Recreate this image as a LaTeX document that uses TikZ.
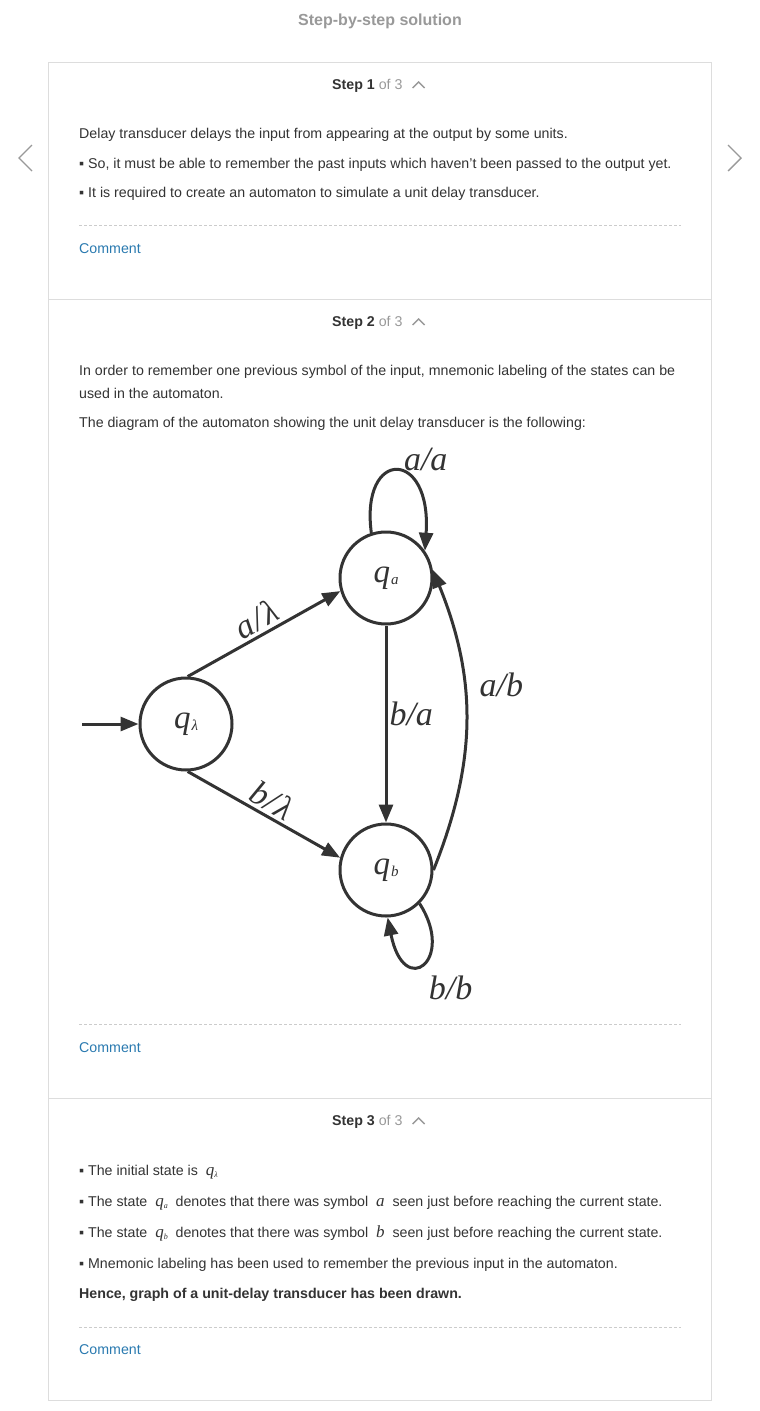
\documentclass[tikz,border=0pt]{standalone}
\usepackage{fontspec}
\setmainfont{Liberation Sans}
\newfontfamily\diagfont{Liberation Serif}
\usetikzlibrary{arrows.meta,positioning}
\definecolor{ink}{HTML}{333333}
\definecolor{soft}{HTML}{999999}
\definecolor{frame}{HTML}{DDDDDD}
\definecolor{dashc}{HTML}{CCCCCC}
\definecolor{link}{HTML}{2A7AB0}
% state name in the diagram and in the text
\newcommand\stname[1]{q\kern1pt\raisebox{-2pt}{\fontsize{15}{15}\selectfont#1}}
\newcommand\inq[1]{{\diagfont\itshape\fontsize{17}{17}\selectfont q\raisebox{-2pt}{\fontsize{8}{8}\selectfont#1}}}
\newcommand\insym[1]{{\diagfont\itshape\fontsize{17}{17}\selectfont#1}}
\tikzset{
  body/.style={anchor=base west,inner sep=0pt,text=ink,font=\fontsize{14.2}{17}\selectfont},
  comment/.style={body,text=link},
  head/.style={anchor=base west,inner sep=0pt,text=ink,font=\fontsize{14.2}{17}\selectfont},
  state/.style={circle,draw=ink,line width=3pt,minimum size=92pt,inner sep=0pt,text=ink,font=\diagfont\itshape\fontsize{33}{36}\selectfont},
  trans/.style={draw=ink,line width=3pt,-{Triangle[length=18pt,width=14pt]}},
  lab/.style={text=ink,inner sep=2pt,font=\diagfont\itshape\fontsize{34}{38}\selectfont},
  chev/.style={draw=soft,line width=1.4pt},
}
\begin{document}
\begin{tikzpicture}[x=1pt,y=1pt]
    \fill[white](0,0)rectangle(760,-1411);
    \useasboundingbox(0,0)rectangle(760,-1411);
    % frame
    \node[inner sep=0pt,text=soft,font=\fontsize{16}{19}\selectfont\bfseries](title)at(380,-21){Step-by-step solution};
    \draw[frame,line width=1pt](48.5,-62.5)rectangle(711.5,-1400.5);
    \draw[frame,line width=1pt](48.5,-299.5)--(711.5,-299.5);
    \draw[frame,line width=1pt](48.5,-1098.5)--(711.5,-1098.5);
    \draw[chev](32,-145)--(19,-158)--(32,-171);
    \draw[chev](728,-145)--(741,-158)--(728,-171);
    % step 1
    \node[head](h1)at(332,-89){\textbf{Step 1} \textcolor{soft}{of 3}};
    \draw[chev]([xshift=10pt,yshift=1pt]h1.base east)--++(6,6)--++(6,-6);
    \node[body](t1)at(79,-138){Delay transducer delays the input from appearing at the output by some units.};
    \node[body](t2)at(79,-168){▪ So, it must be able to remember the past inputs which haven't been passed to the output yet.};
    \node[body](t3)at(79,-197){▪ It is required to create an automaton to simulate a unit delay transducer.};
    \draw[dashc,dash pattern=on 3pt off 2pt](79,-225.5)--(681,-225.5);
    \node[comment](c1)at(79,-253){Comment};
    % step 2
    \node[head](h2)at(332,-326){\textbf{Step 2} \textcolor{soft}{of 3}};
    \draw[chev]([xshift=10pt,yshift=1pt]h2.base east)--++(6,6)--++(6,-6);
    \node[body](t4)at(79,-375){In order to remember one previous symbol of the input, mnemonic labeling of the states can be};
    \node[body](t5)at(79,-398){used in the automaton.};
    \node[body](t6)at(79,-427){The diagram of the automaton showing the unit delay transducer is the following:};
    % automaton
    \node[state](ql)at(186,-724){\stname{λ}};
    \node[state](qa)at(386,-578){\stname{a}};
    \node[state](qb)at(386,-870){\stname{b}};
    \coordinate(start)at(82,-724);
    \draw[trans](start)--(ql);
    \draw[trans](ql.88)--(qa.196)node[lab,midway,sloped,above=1pt]{a\kern1pt/\kern2ptλ};
    \draw[trans](ql.-88)--(qb.165)node[lab,midway,sloped,above=1pt]{b\kern1pt/\kern2ptλ};
    \draw[trans](qa)--(qb)node[lab,pos=0.45,right=0pt]{b/a};
    \draw[trans](qb.0)to[bend right=22]node[lab,pos=0.62,right=12pt]{a/b}(qa.10);
    \draw[trans](qa.108)..controls(360,-448)and(432,-448)..(qa.35)node[lab,pos=0.5,anchor=south west,xshift=4pt,yshift=-3pt]{a/a};
    \draw[trans](qb.-45)..controls(456,-960)and(404,-1000)..(qb.-88)node[lab,pos=0.5,anchor=north west,xshift=2pt,yshift=-10pt]{b/b};
    \draw[dashc,dash pattern=on 3pt off 2pt](79,-1024.5)--(681,-1024.5);
    \node[comment](c2)at(79,-1052){Comment};
    % step 3
    \node[head](h3)at(332,-1125){\textbf{Step 3} \textcolor{soft}{of 3}};
    \draw[chev]([xshift=10pt,yshift=1pt]h3.base east)--++(6,6)--++(6,-6);
    \node[body](t7)at(79,-1175){▪ The initial state is \ \inq{λ}};
    \node[body](t8)at(79,-1206){▪ The state \ \inq{a} \ denotes that there was symbol \ \insym{a} \ seen just before reaching the current state.};
    \node[body](t9)at(79,-1237){▪ The state \ \inq{b} \ denotes that there was symbol \ \insym{b} \ seen just before reaching the current state.};
    \node[body](t10)at(79,-1268){▪ Mnemonic labeling has been used to remember the previous input in the automaton.};
    \node[body,font=\fontsize{14.2}{17}\selectfont\bfseries](t11)at(79,-1298){Hence, graph of a unit-delay transducer has been drawn.};
    \draw[dashc,dash pattern=on 3pt off 2pt](79,-1327.5)--(681,-1327.5);
    \node[comment](c3)at(79,-1354){Comment};
\end{tikzpicture}
\end{document}
